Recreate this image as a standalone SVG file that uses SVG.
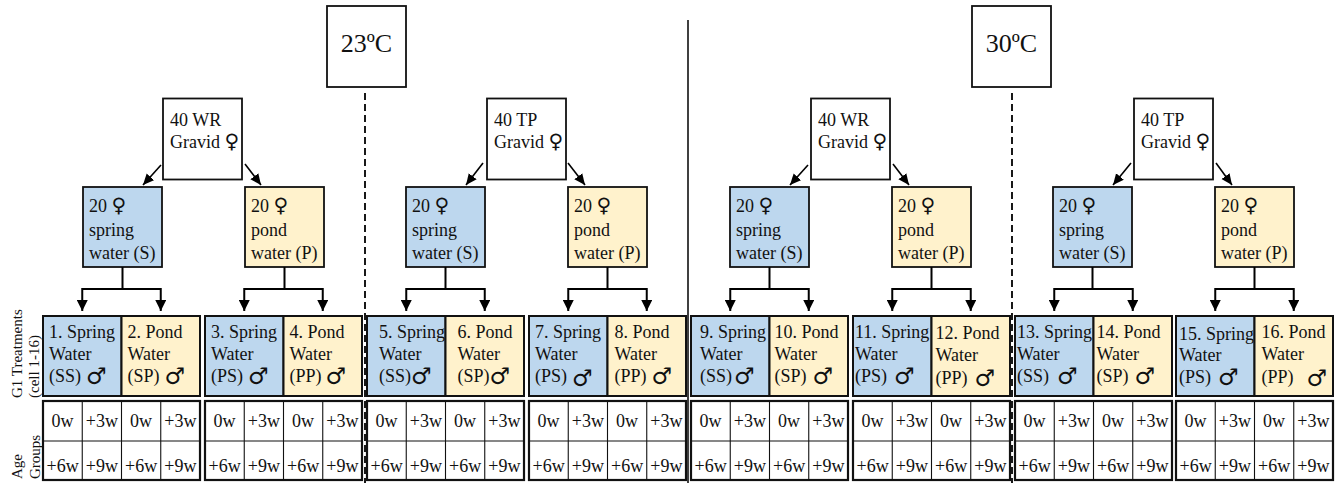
<svg xmlns="http://www.w3.org/2000/svg" width="1336" height="483" viewBox="0 0 1336 483">
<style>
.bg{fill:#ffffff}
.blue{fill:#BDD7EE}
.yellow{fill:#FFF2CC}
.white{fill:#ffffff}
.box{stroke:#111;stroke-width:1.8}
.cell{stroke:#111;stroke-width:2}
.outer{stroke:#111;stroke-width:2.2;fill:#ffffff}
.grid{stroke:#111;stroke-width:1.1;fill:none}
.t{font-family:"Liberation Serif","Times New Roman",serif;font-size:18px;fill:#111}
.big{font-size:26px}
.rot{font-size:15px}
.age{text-anchor:middle}
.sym{font-family:"DejaVu Sans",sans-serif;font-size:20px}
.msym{font-family:"DejaVu Sans",sans-serif;font-size:23px}
.conn{stroke:#000;stroke-width:2;fill:none}
.diag{stroke:#000;stroke-width:1.6;fill:none}
.dash{stroke:#000;stroke-width:1.8;stroke-dasharray:7 4;fill:none}
.solid{stroke:#000;stroke-width:1.5;fill:none}
</style>
<defs>
<marker id="ah" markerWidth="11" markerHeight="11" refX="11" refY="5.5" orient="auto" markerUnits="userSpaceOnUse"><path d="M0,0 L11,5.5 L0,11 z" fill="#000"/></marker>
<marker id="ah2" markerWidth="11" markerHeight="11" refX="11" refY="5.5" orient="auto" markerUnits="userSpaceOnUse"><path d="M0,0.5 L11,5.5 L0,10.5 z" fill="#000"/></marker>
</defs>
<rect class="bg" x="0" y="0" width="1336" height="483"/>

<g id="dividers">
<line class="dash" x1="365" y1="93" x2="365" y2="483"/>
<line class="dash" x1="1012" y1="93" x2="1012" y2="483"/>
<line class="solid" x1="688" y1="20" x2="688" y2="483"/>
</g>

<g id="temp23"><rect class="white box" x="327" y="6" width="79" height="81"/><text class="t big" x="366.5" y="52" text-anchor="middle">23ºC</text></g>
<g id="temp30"><rect class="white box" x="972" y="6" width="79" height="81"/><text class="t big" x="1011.5" y="52" text-anchor="middle">30ºC</text></g>

<g id="parent-wr23"><rect class="white box" x="163" y="98.5" width="79" height="81"/><text class="t" x="170" y="126">40 WR</text><text class="t" x="170" y="148">Gravid <tspan class="sym">♀</tspan></text></g>
<g id="parent-tp23"><rect class="white box" x="487" y="98.5" width="79" height="81"/><text class="t" x="494" y="126">40 TP</text><text class="t" x="494" y="148">Gravid <tspan class="sym">♀</tspan></text></g>
<g id="parent-wr30"><rect class="white box" x="811" y="98.5" width="79" height="81"/><text class="t" x="818" y="126">40 WR</text><text class="t" x="818" y="148">Gravid <tspan class="sym">♀</tspan></text></g>
<g id="parent-tp30"><rect class="white box" x="1134" y="98.5" width="79" height="81"/><text class="t" x="1141" y="126">40 TP</text><text class="t" x="1141" y="148">Gravid <tspan class="sym">♀</tspan></text></g>

<g id="mid-s1"><rect class="blue box" x="83" y="187" width="79" height="80"/><text class="t" x="89" y="212">20 <tspan class="sym">♀</tspan></text><text class="t" x="89" y="236">spring</text><text class="t" x="89" y="259">water (S)</text></g>
<g id="mid-p1"><rect class="yellow box" x="245" y="187" width="79" height="80"/><text class="t" x="251" y="212">20 <tspan class="sym">♀</tspan></text><text class="t" x="251" y="236">pond</text><text class="t" x="251" y="259">water (P)</text></g>
<g id="mid-s2"><rect class="blue box" x="406" y="187" width="79" height="80"/><text class="t" x="412" y="212">20 <tspan class="sym">♀</tspan></text><text class="t" x="412" y="236">spring</text><text class="t" x="412" y="259">water (S)</text></g>
<g id="mid-p2"><rect class="yellow box" x="568" y="187" width="79" height="80"/><text class="t" x="574" y="212">20 <tspan class="sym">♀</tspan></text><text class="t" x="574" y="236">pond</text><text class="t" x="574" y="259">water (P)</text></g>
<g id="mid-s3"><rect class="blue box" x="730" y="187" width="79" height="80"/><text class="t" x="736" y="212">20 <tspan class="sym">♀</tspan></text><text class="t" x="736" y="236">spring</text><text class="t" x="736" y="259">water (S)</text></g>
<g id="mid-p3"><rect class="yellow box" x="892" y="187" width="79" height="80"/><text class="t" x="898" y="212">20 <tspan class="sym">♀</tspan></text><text class="t" x="898" y="236">pond</text><text class="t" x="898" y="259">water (P)</text></g>
<g id="mid-s4"><rect class="blue box" x="1053" y="187" width="79" height="80"/><text class="t" x="1059" y="212">20 <tspan class="sym">♀</tspan></text><text class="t" x="1059" y="236">spring</text><text class="t" x="1059" y="259">water (S)</text></g>
<g id="mid-p4"><rect class="yellow box" x="1215" y="187" width="79" height="80"/><text class="t" x="1221" y="212">20 <tspan class="sym">♀</tspan></text><text class="t" x="1221" y="236">pond</text><text class="t" x="1221" y="259">water (P)</text></g>

<g id="connectors">
<path class="diag" d="M161,165 L143,185" marker-end="url(#ah2)"/>
<path class="diag" d="M245,164 L261,185" marker-end="url(#ah2)"/>
<path class="diag" d="M483,163 L466,185" marker-end="url(#ah2)"/>
<path class="diag" d="M568,163 L585,185" marker-end="url(#ah2)"/>
<path class="diag" d="M808,165 L790,185" marker-end="url(#ah2)"/>
<path class="diag" d="M893,164 L909,185" marker-end="url(#ah2)"/>
<path class="diag" d="M1131,163 L1113,185" marker-end="url(#ah2)"/>
<path class="diag" d="M1216,163 L1232,185" marker-end="url(#ah2)"/>

<path class="conn" d="M122.5,267 V289 H82.25 V311" marker-end="url(#ah)"/>
<path class="conn" d="M122.5,289 H160.75 V311" marker-end="url(#ah)"/>
<path class="conn" d="M284.5,267 V289 H244.25 V311" marker-end="url(#ah)"/>
<path class="conn" d="M284.5,289 H322.75 V311" marker-end="url(#ah)"/>
<path class="conn" d="M445.5,267 V289 H406.25 V311" marker-end="url(#ah)"/>
<path class="conn" d="M445.5,289 H484.75 V311" marker-end="url(#ah)"/>
<path class="conn" d="M607.5,267 V289 H568.25 V311" marker-end="url(#ah)"/>
<path class="conn" d="M607.5,289 H646.75 V311" marker-end="url(#ah)"/>
<path class="conn" d="M769.5,267 V289 H730.25 V311" marker-end="url(#ah)"/>
<path class="conn" d="M769.5,289 H808.75 V311" marker-end="url(#ah)"/>
<path class="conn" d="M931.5,267 V289 H892.25 V311" marker-end="url(#ah)"/>
<path class="conn" d="M931.5,289 H970.75 V311" marker-end="url(#ah)"/>
<path class="conn" d="M1092.5,267 V289 H1054.25 V311" marker-end="url(#ah)"/>
<path class="conn" d="M1092.5,289 H1132.75 V311" marker-end="url(#ah)"/>
<path class="conn" d="M1254.5,267 V289 H1215.25 V311" marker-end="url(#ah)"/>
<path class="conn" d="M1254.5,289 H1293.75 V311" marker-end="url(#ah)"/>
</g>

<g id="cell-1"><rect class="blue cell" x="43" y="316" width="78.5" height="80"/><text class="t" x="49" y="338">1. Spring</text><text class="t" x="49" y="360">Water</text><text class="t" x="49" y="382">(SS)</text><text class="t msym" x="86" y="384">♂</text></g>
<g id="cell-2"><rect class="yellow cell" x="121.5" y="316" width="78.5" height="80"/><text class="t" x="127.5" y="338">2. Pond</text><text class="t" x="127.5" y="360">Water</text><text class="t" x="127.5" y="382">(SP)</text><text class="t msym" x="164.5" y="384">♂</text></g>
<g id="cell-3"><rect class="blue cell" x="205" y="316" width="78.5" height="80"/><text class="t" x="211" y="338">3. Spring</text><text class="t" x="211" y="360">Water</text><text class="t" x="211" y="382">(PS)</text><text class="t msym" x="248" y="384">♂</text></g>
<g id="cell-4"><rect class="yellow cell" x="283.5" y="316" width="78.5" height="80"/><text class="t" x="289.5" y="338">4. Pond</text><text class="t" x="289.5" y="360">Water</text><text class="t" x="289.5" y="382">(PP)</text><text class="t msym" x="325.5" y="384">♂</text></g>
<g id="cell-5"><rect class="blue cell" x="367" y="316" width="78.5" height="80"/><text class="t" x="379" y="338">5. Spring</text><text class="t" x="379" y="360">Water</text><text class="t" x="379" y="382">(SS)</text><text class="t msym" x="411" y="384">♂</text></g>
<g id="cell-6"><rect class="yellow cell" x="445.5" y="316" width="78.5" height="80"/><text class="t" x="457.5" y="338">6. Pond</text><text class="t" x="457.5" y="360">Water</text><text class="t" x="457.5" y="382">(SP)</text><text class="t msym" x="489.5" y="384">♂</text></g>
<g id="cell-7"><rect class="blue cell" x="529" y="316" width="78.5" height="80"/><text class="t" x="535" y="338">7. Spring</text><text class="t" x="535" y="360">Water</text><text class="t" x="535" y="382">(PS)</text><text class="t msym" x="572" y="386">♂</text></g>
<g id="cell-8"><rect class="yellow cell" x="607.5" y="316" width="78.5" height="80"/><text class="t" x="614.5" y="338">8. Pond</text><text class="t" x="614.5" y="360">Water</text><text class="t" x="614.5" y="382">(PP)</text><text class="t msym" x="651.5" y="384">♂</text></g>
<g id="cell-9"><rect class="blue cell" x="691" y="316" width="78.5" height="80"/><text class="t" x="700" y="338">9. Spring</text><text class="t" x="700" y="360">Water</text><text class="t" x="700" y="382">(SS)</text><text class="t msym" x="734" y="384">♂</text></g>
<g id="cell-10"><rect class="yellow cell" x="769.5" y="316" width="78.5" height="80"/><text class="t" x="774.5" y="338">10. Pond</text><text class="t" x="774.5" y="360">Water</text><text class="t" x="774.5" y="382">(SP)</text><text class="t msym" x="812.5" y="384">♂</text></g>
<g id="cell-11"><rect class="blue cell" x="853" y="316" width="78.5" height="80"/><text class="t" x="855" y="338">11. Spring</text><text class="t" x="855" y="360">Water</text><text class="t" x="855" y="382">(PS)</text><text class="t msym" x="894" y="384">♂</text></g>
<g id="cell-12"><rect class="yellow cell" x="931.5" y="316" width="78.5" height="80"/><text class="t" x="935.5" y="339">12. Pond</text><text class="t" x="935.5" y="361">Water</text><text class="t" x="935.5" y="384">(PP)</text><text class="t msym" x="974.5" y="386">♂</text></g>
<g id="cell-13"><rect class="blue cell" x="1015" y="316" width="78.5" height="80"/><text class="t" x="1017" y="338">13. Spring</text><text class="t" x="1017" y="360">Water</text><text class="t" x="1017" y="382">(SS)</text><text class="t msym" x="1057" y="384">♂</text></g>
<g id="cell-14"><rect class="yellow cell" x="1093.5" y="316" width="78.5" height="80"/><text class="t" x="1096.5" y="338">14. Pond</text><text class="t" x="1096.5" y="360">Water</text><text class="t" x="1096.5" y="382">(SP)</text><text class="t msym" x="1134.5" y="384">♂</text></g>
<g id="cell-15"><rect class="blue cell" x="1176" y="316" width="78.5" height="80"/><text class="t" x="1179" y="340">15. Spring</text><text class="t" x="1179" y="361">Water</text><text class="t" x="1179" y="383">(PS)</text><text class="t msym" x="1218" y="385">♂</text></g>
<g id="cell-16"><rect class="yellow cell" x="1254.5" y="316" width="78.5" height="80"/><text class="t" x="1261.5" y="338">16. Pond</text><text class="t" x="1261.5" y="360">Water</text><text class="t" x="1261.5" y="383">(PP)</text><text class="t msym" x="1306.5" y="386">♂</text></g>

<g id="age-tables">
<g id="age-1" transform="translate(43,0)">
<rect class="outer" x="0" y="401" width="157" height="79"/>
<path class="grid" d="M39.25,401 V480 M78.5,401 V480 M117.75,401 V480 M0,441 H157"/>
<text class="t age" x="19.6" y="427">0w</text><text class="t age" x="58.9" y="427">+3w</text><text class="t age" x="98.1" y="427">0w</text><text class="t age" x="137.4" y="427">+3w</text>
<text class="t age" x="19.6" y="472">+6w</text><text class="t age" x="58.9" y="472">+9w</text><text class="t age" x="98.1" y="472">+6w</text><text class="t age" x="137.4" y="472">+9w</text>
</g>
<g id="age-2" transform="translate(205,0)">
<rect class="outer" x="0" y="401" width="157" height="79"/>
<path class="grid" d="M39.25,401 V480 M78.5,401 V480 M117.75,401 V480 M0,441 H157"/>
<text class="t age" x="19.6" y="427">0w</text><text class="t age" x="58.9" y="427">+3w</text><text class="t age" x="98.1" y="427">0w</text><text class="t age" x="137.4" y="427">+3w</text>
<text class="t age" x="19.6" y="472">+6w</text><text class="t age" x="58.9" y="472">+9w</text><text class="t age" x="98.1" y="472">+6w</text><text class="t age" x="137.4" y="472">+9w</text>
</g>
<g id="age-3" transform="translate(367,0)">
<rect class="outer" x="0" y="401" width="157" height="79"/>
<path class="grid" d="M39.25,401 V480 M78.5,401 V480 M117.75,401 V480 M0,441 H157"/>
<text class="t age" x="19.6" y="427">0w</text><text class="t age" x="58.9" y="427">+3w</text><text class="t age" x="98.1" y="427">0w</text><text class="t age" x="137.4" y="427">+3w</text>
<text class="t age" x="19.6" y="472">+6w</text><text class="t age" x="58.9" y="472">+9w</text><text class="t age" x="98.1" y="472">+6w</text><text class="t age" x="137.4" y="472">+9w</text>
</g>
<g id="age-4" transform="translate(529,0)">
<rect class="outer" x="0" y="401" width="157" height="79"/>
<path class="grid" d="M39.25,401 V480 M78.5,401 V480 M117.75,401 V480 M0,441 H157"/>
<text class="t age" x="19.6" y="427">0w</text><text class="t age" x="58.9" y="427">+3w</text><text class="t age" x="98.1" y="427">0w</text><text class="t age" x="137.4" y="427">+3w</text>
<text class="t age" x="19.6" y="472">+6w</text><text class="t age" x="58.9" y="472">+9w</text><text class="t age" x="98.1" y="472">+6w</text><text class="t age" x="137.4" y="472">+9w</text>
</g>
<g id="age-5" transform="translate(691,0)">
<rect class="outer" x="0" y="401" width="157" height="79"/>
<path class="grid" d="M39.25,401 V480 M78.5,401 V480 M117.75,401 V480 M0,441 H157"/>
<text class="t age" x="19.6" y="427">0w</text><text class="t age" x="58.9" y="427">+3w</text><text class="t age" x="98.1" y="427">0w</text><text class="t age" x="137.4" y="427">+3w</text>
<text class="t age" x="19.6" y="472">+6w</text><text class="t age" x="58.9" y="472">+9w</text><text class="t age" x="98.1" y="472">+6w</text><text class="t age" x="137.4" y="472">+9w</text>
</g>
<g id="age-6" transform="translate(853,0)">
<rect class="outer" x="0" y="401" width="157" height="79"/>
<path class="grid" d="M39.25,401 V480 M78.5,401 V480 M117.75,401 V480 M0,441 H157"/>
<text class="t age" x="19.6" y="427">0w</text><text class="t age" x="58.9" y="427">+3w</text><text class="t age" x="98.1" y="427">0w</text><text class="t age" x="137.4" y="427">+3w</text>
<text class="t age" x="19.6" y="472">+6w</text><text class="t age" x="58.9" y="472">+9w</text><text class="t age" x="98.1" y="472">+6w</text><text class="t age" x="137.4" y="472">+9w</text>
</g>
<g id="age-7" transform="translate(1015,0)">
<rect class="outer" x="0" y="401" width="157" height="79"/>
<path class="grid" d="M39.25,401 V480 M78.5,401 V480 M117.75,401 V480 M0,441 H157"/>
<text class="t age" x="19.6" y="427">0w</text><text class="t age" x="58.9" y="427">+3w</text><text class="t age" x="98.1" y="427">0w</text><text class="t age" x="137.4" y="427">+3w</text>
<text class="t age" x="19.6" y="472">+6w</text><text class="t age" x="58.9" y="472">+9w</text><text class="t age" x="98.1" y="472">+6w</text><text class="t age" x="137.4" y="472">+9w</text>
</g>
<g id="age-8" transform="translate(1176,0)">
<rect class="outer" x="0" y="401" width="157" height="79"/>
<path class="grid" d="M39.25,401 V480 M78.5,401 V480 M117.75,401 V480 M0,441 H157"/>
<text class="t age" x="19.6" y="427">0w</text><text class="t age" x="58.9" y="427">+3w</text><text class="t age" x="98.1" y="427">0w</text><text class="t age" x="137.4" y="427">+3w</text>
<text class="t age" x="19.6" y="472">+6w</text><text class="t age" x="58.9" y="472">+9w</text><text class="t age" x="98.1" y="472">+6w</text><text class="t age" x="137.4" y="472">+9w</text>
</g>
</g>

<g id="row-labels">
<text class="t rot" transform="translate(22,398) rotate(-90)">G1 Treatments</text>
<text class="t rot" transform="translate(39,398) rotate(-90)">(cell 1-16)</text>
<text class="t rot" transform="translate(22,479) rotate(-90)">Age</text>
<text class="t rot" transform="translate(40,479) rotate(-90)">Groups</text>
</g>
</svg>
